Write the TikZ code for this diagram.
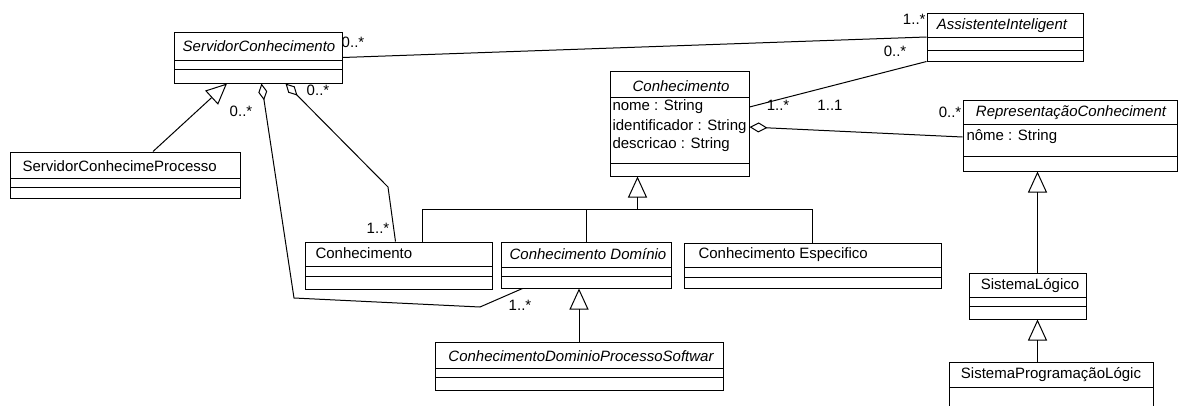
\documentclass[tikz,border=0pt]{standalone}
\usepackage{fontspec}
\setmainfont{Liberation Sans}
\usetikzlibrary{arrows.meta,calc,positioning,fit}

\begin{document}
\begin{tikzpicture}[x=1pt,y=-1pt,line width=1pt,
    cls/.style={draw,inner sep=0pt,fit={#1}},
    ctitle/.style={font=\fontsize{15}{18}\selectfont\itshape,inner sep=0pt},
    cname/.style={font=\fontsize{15}{18}\selectfont,inner sep=0pt},
    attr/.style={font=\fontsize{15}{18}\selectfont,inner sep=0pt,anchor=west},
    mult/.style={font=\fontsize{15}{18}\selectfont,inner sep=0pt},
    gen/.style={-{Triangle[open,length=21pt,width=19pt]}},
    agg/.style={{Diamond[open,length=18pt,width=10pt]}-}]
                  \useasboundingbox (0,0) rectangle (1181,405);

                  % Class boxes
                  \node[cls={(174,32) (342,83)}] (servidor) {};
                  \draw (174,60) -- (342,60);
                  \draw (174,69) -- (342,69);
                  \node[ctitle] (servidorT) at (259,46) {ServidorConhecimento};

                  \node[cls={(10,152) (240,198)}] (scp) {};
                  \draw (10,178) -- (240,178);
                  \draw (10,187) -- (240,187);
                  \node[cname,anchor=west] (scpT) at (22,166) {ServidorConhecimeProcesso};

                  \node[cls={(927,13) (1083,61)}] (assistente) {};
                  \draw (927,37) -- (1083,37);
                  \draw (927,50) -- (1083,50);
                  \node[ctitle] (assistenteT) at (1002,26) {AssistenteInteligent};

                  \node[cls={(610,71) (749,176)}] (conhecimento) {};
                  \draw (610,97) -- (749,97);
                  \draw (610,163) -- (749,163);
                  \node[ctitle] (conhecimentoT) at (681,86) {Conhecimento};
                  \node[attr] (attrNome) at (612,107) {nome : String};
                  \node[attr] (attrIdent) at (612,127) {identificador : String};
                  \node[attr] (attrDescr) at (612,145) {descricao : String};

                  \node[cls={(963,100) (1177,171)}] (representacao) {};
                  \draw (963,124) -- (1177,124);
                  \draw (963,156) -- (1177,156);
                  \node[ctitle] (representacaoT) at (1071,113) {RepresentaçãoConheciment};
                  \node[attr] (repNome) at (966,137) {nôme : String};

                  \node[cls={(305,242) (492,289)}] (cgeral) {};
                  \draw (305,266) -- (492,266);
                  \draw (305,276) -- (492,276);
                  \node[cname,anchor=west] (cgeralT) at (315,253) {Conhecimento};

                  \node[cls={(501,242) (671,288)}] (cdominio) {};
                  \draw (501,267) -- (671,267);
                  \draw (501,276) -- (671,276);
                  \node[ctitle] (cdominioT) at (588,254) {Conhecimento Domínio};

                  \node[cls={(684,243) (941,288)}] (cespecifico) {};
                  \draw (684,267) -- (941,267);
                  \draw (684,277) -- (941,277);
                  \node[cname,anchor=west] (cespecificoT) at (698,255) {Conhecimento Especifico};

                  \node[cls={(435,342) (723,390)}] (cdps) {};
                  \draw (435,368) -- (723,368);
                  \draw (435,377) -- (723,377);
                  \node[ctitle] (cdpsT) at (581,356) {ConhecimentoDominioProcessoSoftwar};

                  \node[cls={(969,273) (1086,319)}] (sistlog) {};
                  \draw (969,297) -- (1086,297);
                  \draw (969,306) -- (1086,306);
                  \node[cname] (sistlogT) at (1030,286) {SistemaLógico};

                  \node[cls={(949,362) (1153,412)}] (splogic) {};
                  \draw (949,387) -- (1153,387);
                  \node[cname] (splogicT) at (1051,375) {SistemaProgramaçãoLógic};

                  % Associations and aggregations
                  \draw (servidor.east) -- (assistente.west);
                  \draw (conhecimento.east |- attrNome) -- (assistente.south west);
                  \draw[agg] (conhecimento.east |- attrIdent) -- (representacao.west |- repNome);

                  \coordinate (aggA) at ($(servidor.south west)+(88,0)$);
                  \coordinate (aggB) at ($(servidor.south west)+(112,0)$);
                  \draw[agg,{Diamond[open,length=17pt,width=9pt]}-] (aggA) -- (294,298) -- (480,307)
                  -- ($(cdominio.south west)+(22,0)$);
                  \draw[agg,{Diamond[open,length=17pt,width=9pt]}-] (aggB) -- (388,187)
                  -- ($(cgeral.north west)+(91,0)$);

                  % Generalizations
                  \draw[gen] ($(scp.north)+(28,0)$) -- ($(servidor.south)+(-31,0)$);

                  \coordinate (treeTop) at ($(conhecimento.south)+(-42,33)$);
                  \draw[gen] (treeTop) -- (treeTop |- conhecimento.south);
                  \draw ($(cgeral.north west)+(118,0)$) |- (treeTop);
                  \draw (cespecifico.north) |- (treeTop);
                  \draw (cdominio.north) -- (cdominio.north |- treeTop);
                  \draw[gen] (cdps.north) -- (cdps.north |- cdominio.south);

                  \coordinate (slTop) at ($(sistlog.north)+(10,0)$);
                  \draw[gen] (slTop) -- (slTop |- representacao.south);
                  \draw[gen] (slTop |- splogic.north) -- (slTop |- sistlog.south);

                  % Multiplicities
                  \node[mult] (mSrvA) at (353,42) {0..*};
                  \node[mult] (mSrvB) at (241,111) {0..*};
                  \node[mult] (mSrvC) at (318,90) {0..*};
                  \node[mult] (mGeral) at (378,228) {1..*};
                  \node[mult] (mDom) at (520,305) {1..*};
                  \node[mult,anchor=east] (mAssA) at (926,19) {1..*};
                  \node[mult] (mAssB) at (895,51) {0..*};
                  \node[mult] (mConA) at (778,105) {1..*};
                  \node[mult] (mConB) at (830,105) {1..1};
                  \node[mult] (mRep) at (950,112) {0..*};
              \end{tikzpicture}
\end{document}
